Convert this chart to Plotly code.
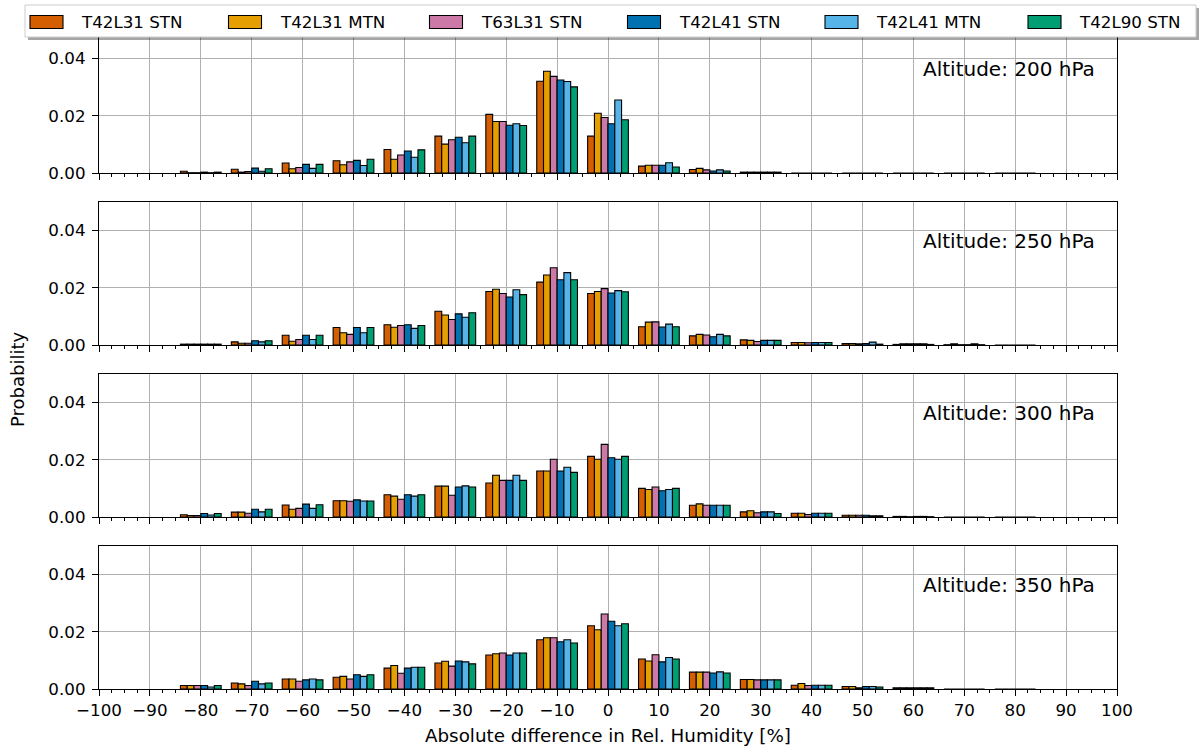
import plotly.graph_objects as go
from plotly.subplots import make_subplots

# ---------------- data ----------------
bin_centers = [-80, -70, -60, -50, -40, -30, -20, -10, 0, 10, 20, 30, 40, 50, 60, 70, 80]
series_names = ["T42L31 STN", "T42L31 MTN", "T63L31 STN", "T42L41 STN", "T42L41 MTN", "T42L90 STN"]
series_colors = ["#D55E00", "#E69F00", "#CC79A7", "#0072B2", "#56B4E9", "#009E73"]
altitudes = ["200", "250", "300", "350"]

# 200 hPa
h200_T42L31_STN = [0.0006, 0.0013, 0.0035, 0.0043, 0.0082, 0.0129, 0.0205, 0.0321, 0.0129, 0.0024, 0.0012, 0.0003, 0, 0, 0, 0, 0]
h200_T42L31_MTN = [0.0001, 0.0003, 0.0015, 0.0029, 0.0048, 0.0101, 0.0180, 0.0356, 0.0209, 0.0027, 0.0016, 0.0003, 0, 0, 0, 0, 0]
h200_T63L31_STN = [0.0001, 0.0005, 0.0019, 0.0039, 0.0063, 0.0116, 0.0180, 0.0338, 0.0194, 0.0027, 0.0011, 0.0003, 0, 0, 0, 0, 0]
h200_T42L41_STN = [0.0003, 0.0017, 0.0030, 0.0044, 0.0077, 0.0125, 0.0167, 0.0325, 0.0172, 0.0027, 0.0007, 0.0003, 0, 0, 0, 0, 0]
h200_T42L41_MTN = [0.0001, 0.0006, 0.0016, 0.0026, 0.0055, 0.0106, 0.0172, 0.0320, 0.0255, 0.0036, 0.0011, 0.0003, 0, 0, 0, 0, 0]
h200_T42L90_STN = [0.0003, 0.0015, 0.0030, 0.0048, 0.0081, 0.0129, 0.0166, 0.0301, 0.0186, 0.0021, 0.0007, 0.0003, 0, 0, 0, 0, 0]

# 250 hPa
h250_T42L31_STN = [0.0003, 0.0011, 0.0034, 0.0061, 0.0071, 0.0118, 0.0187, 0.0220, 0.0180, 0.0064, 0.0032, 0.0018, 0.0009, 0.0005, 0.0002, 0.0001, 0]
h250_T42L31_MTN = [0.0003, 0.0006, 0.0013, 0.0043, 0.0062, 0.0105, 0.0195, 0.0245, 0.0187, 0.0080, 0.0037, 0.0016, 0.0009, 0.0005, 0.0004, 0.0004, 0]
h250_T63L31_STN = [0.0003, 0.0006, 0.0019, 0.0037, 0.0068, 0.0089, 0.0180, 0.0270, 0.0197, 0.0081, 0.0035, 0.0012, 0.0008, 0.0004, 0.0004, 0.0001, 0]
h250_T42L41_STN = [0.0003, 0.0015, 0.0034, 0.0061, 0.0071, 0.0109, 0.0168, 0.0228, 0.0182, 0.0063, 0.0029, 0.0016, 0.0009, 0.0005, 0.0004, 0.0001, 0]
h250_T42L41_MTN = [0.0003, 0.0011, 0.0019, 0.0043, 0.0058, 0.0097, 0.0193, 0.0253, 0.0190, 0.0073, 0.0037, 0.0016, 0.0009, 0.0010, 0.0004, 0.0004, 0]
h250_T42L90_STN = [0.0003, 0.0015, 0.0034, 0.0061, 0.0068, 0.0113, 0.0176, 0.0228, 0.0186, 0.0064, 0.0032, 0.0016, 0.0009, 0.0003, 0.0002, 0.0001, 0]

# 300 hPa
h300_T42L31_STN = [0.0008, 0.0017, 0.0042, 0.0057, 0.0078, 0.0108, 0.0119, 0.0161, 0.0212, 0.0100, 0.0041, 0.0018, 0.0013, 0.0006, 0.0002, 0, 0]
h300_T42L31_MTN = [0.0005, 0.0017, 0.0027, 0.0057, 0.0073, 0.0108, 0.0146, 0.0161, 0.0202, 0.0096, 0.0046, 0.0022, 0.0013, 0.0006, 0.0002, 0, 0]
h300_T63L31_STN = [0.0005, 0.0013, 0.0030, 0.0055, 0.0062, 0.0076, 0.0128, 0.0202, 0.0254, 0.0105, 0.0041, 0.0015, 0.0009, 0.0006, 0.0001, 0, 0]
h300_T42L41_STN = [0.0012, 0.0027, 0.0045, 0.0060, 0.0078, 0.0105, 0.0128, 0.0161, 0.0207, 0.0092, 0.0041, 0.0018, 0.0013, 0.0006, 0.0002, 0, 0]
h300_T42L41_MTN = [0.0007, 0.0018, 0.0030, 0.0056, 0.0073, 0.0109, 0.0146, 0.0174, 0.0202, 0.0096, 0.0041, 0.0018, 0.0013, 0.0004, 0.0002, 0, 0]
h300_T42L90_STN = [0.0012, 0.0027, 0.0043, 0.0056, 0.0078, 0.0105, 0.0128, 0.0156, 0.0212, 0.0100, 0.0041, 0.0012, 0.0013, 0.0004, 0.0001, 0, 0]

# 350 hPa
h350_T42L31_STN = [0.0012, 0.0021, 0.0035, 0.0041, 0.0073, 0.0091, 0.0119, 0.0172, 0.0221, 0.0105, 0.0059, 0.0033, 0.0013, 0.0009, 0.0004, 0, 0]
h350_T42L31_MTN = [0.0012, 0.0018, 0.0035, 0.0044, 0.0082, 0.0097, 0.0123, 0.0179, 0.0207, 0.0098, 0.0059, 0.0033, 0.0019, 0.0009, 0.0004, 0, 0]
h350_T63L31_STN = [0.0012, 0.0012, 0.0027, 0.0035, 0.0055, 0.0080, 0.0126, 0.0179, 0.0262, 0.0120, 0.0059, 0.0032, 0.0012, 0.0004, 0.0004, 0, 0]
h350_T42L41_STN = [0.0012, 0.0027, 0.0032, 0.0050, 0.0073, 0.0098, 0.0119, 0.0165, 0.0237, 0.0095, 0.0056, 0.0032, 0.0013, 0.0009, 0.0004, 0, 0]
h350_T42L41_MTN = [0.0007, 0.0018, 0.0035, 0.0044, 0.0076, 0.0095, 0.0126, 0.0172, 0.0221, 0.0110, 0.0060, 0.0032, 0.0013, 0.0009, 0.0004, 0, 0]
h350_T42L90_STN = [0.0012, 0.0021, 0.0032, 0.0050, 0.0076, 0.0088, 0.0126, 0.0161, 0.0228, 0.0105, 0.0056, 0.0032, 0.0013, 0.0007, 0.0004, 0, 0]

panels = [
    [h200_T42L31_STN, h200_T42L31_MTN, h200_T63L31_STN, h200_T42L41_STN, h200_T42L41_MTN, h200_T42L90_STN],
    [h250_T42L31_STN, h250_T42L31_MTN, h250_T63L31_STN, h250_T42L41_STN, h250_T42L41_MTN, h250_T42L90_STN],
    [h300_T42L31_STN, h300_T42L31_MTN, h300_T63L31_STN, h300_T42L41_STN, h300_T42L41_MTN, h300_T42L90_STN],
    [h350_T42L31_STN, h350_T42L31_MTN, h350_T63L31_STN, h350_T42L41_STN, h350_T42L41_MTN, h350_T42L90_STN],
]

# ---------------- figure ----------------
FONT = "DejaVu Sans"
W, H = 1203, 751
ML, MR, MT, MB = 99, 86, 30, 62
PW = W - ML - MR
PH = H - MT - MB


def px_x(px):
    return (px - ML) / PW


def px_y(py):
    return ((H - MB) - py) / PH


fig = make_subplots(rows=4, cols=1, shared_xaxes=True, vertical_spacing=29 / PH)

for r, panel in enumerate(panels, start=1):
    for name, color, vals in zip(series_names, series_colors, panel):
        fig.add_trace(
            go.Bar(
                x=bin_centers, y=vals, name=name,
                marker=dict(color=color, line=dict(color="black", width=1.1)),
                legendgroup=name, showlegend=False,
            ),
            row=r, col=1,
        )
    fig.add_annotation(
        text=f"Altitude: {altitudes[r-1]} hPa",
        xref="x domain" if r == 1 else f"x{r} domain",
        yref="y domain" if r == 1 else f"y{r} domain",
        x=(1097 - ML) / PW, y=1 - 39 / 143,
        xanchor="right", yanchor="middle", showarrow=False,
        font=dict(family=FONT, size=20, color="black"),
    )

axis_common = dict(
    ticks="outside", ticklen=6, tickwidth=1.3, tickcolor="black",
    showline=True, linecolor="black", linewidth=1.3, mirror=True,
    showgrid=True, gridcolor="#b0b0b0", gridwidth=1.3, zeroline=False,
    tickfont=dict(family=FONT, size=16.7, color="black"),
)
fig.update_xaxes(
    range=[-100, 100], tick0=0, dtick=10,
    minor=dict(tick0=0, dtick=2.5, ticks="outside", ticklen=3.3, tickwidth=1, tickcolor="black", showgrid=False),
    **axis_common,
)
fig.update_yaxes(
    range=[0, 0.05], tick0=0, dtick=0.02, tickformat=".2f", ticklabelstandoff=3,
    **axis_common,
)

fig.add_annotation(
    text="Absolute difference in Rel. Humidity [%]", xref="paper", yref="paper",
    x=0.5, y=px_y(735), xanchor="center", yanchor="middle", showarrow=False,
    font=dict(family=FONT, size=18.3, color="black"),
)
fig.add_annotation(
    text="Probability", xref="paper", yref="paper", textangle=-90,
    x=px_x(17), y=px_y(380), xanchor="center", yanchor="middle",
    showarrow=False, font=dict(family=FONT, size=18, color="black"),
)

# ---------------- legend (drawn like the original boxed legend) ----------------
shapes = []
# shadow
shapes.append(dict(type="rect", xref="paper", yref="paper", layer="above",
                   x0=px_x(28), x1=px_x(1199), y0=px_y(40), y1=px_y(8),
                   fillcolor="rgba(0,0,0,0.35)", line=dict(width=0)))
# frame
shapes.append(dict(type="rect", xref="paper", yref="paper", layer="above",
                   x0=px_x(25), x1=px_x(1196), y0=px_y(37), y1=px_y(5),
                   fillcolor="white", line=dict(color="#cccccc", width=1)))
patch_left = [30, 228.5, 429.5, 627.5, 825, 1028]
for name, color, x0 in zip(series_names, series_colors, patch_left):
    shapes.append(dict(type="rect", xref="paper", yref="paper", layer="above",
                       x0=px_x(x0), x1=px_x(x0 + 33), y0=px_y(28.5), y1=px_y(15.5),
                       fillcolor=color, line=dict(color="black", width=1.1)))
    fig.add_annotation(
        text=name, xref="paper", yref="paper", x=px_x(x0 + 49), y=px_y(22),
        xanchor="left", yanchor="middle", showarrow=False,
        font=dict(family=FONT, size=16.7, color="black"),
    )

fig.update_layout(
    width=W, height=H,
    margin=dict(l=ML, r=MR, t=MT, b=MB),
    paper_bgcolor="white", plot_bgcolor="white",
    barmode="group", bargap=0.2, bargroupgap=0,
    font=dict(family=FONT, size=16.7, color="black"),
    showlegend=False,
    shapes=shapes,
)

fig.write_html("out.html")
